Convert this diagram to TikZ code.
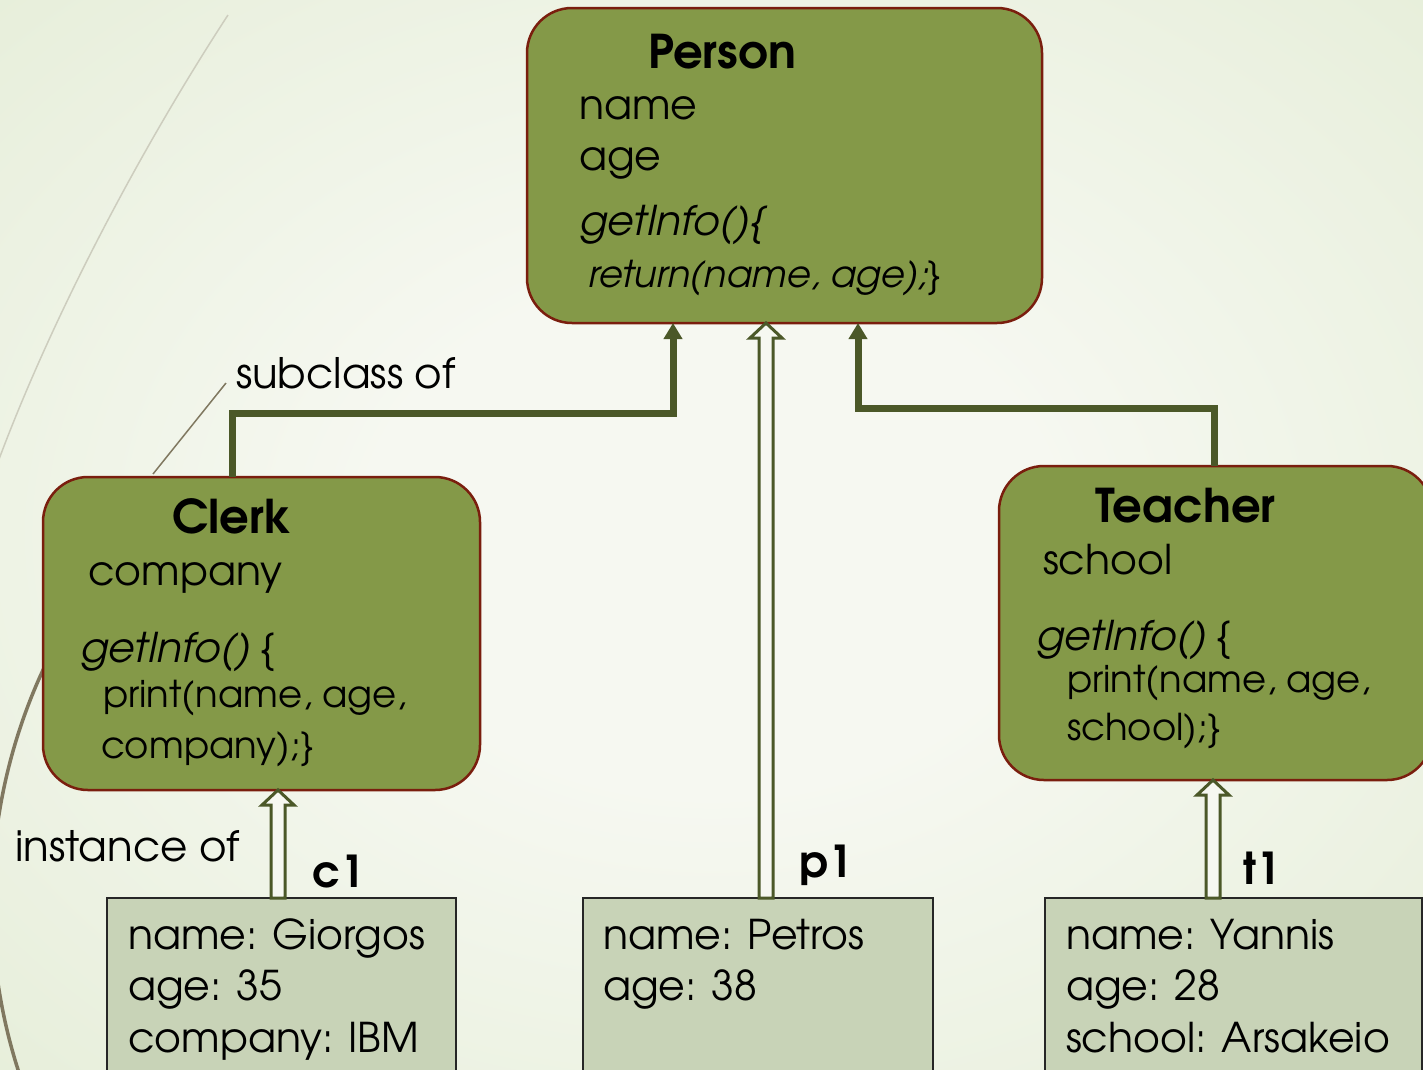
\documentclass[tikz,border=0pt]{standalone}
\usepackage{fontspec}
\setmainfont{texgyreadventor}[Extension=.otf, UprightFont=*-regular, BoldFont=*-bold, ItalicFont=*-regular, ItalicFeatures={FakeSlant=0.2}, BoldItalicFont=*-bolditalic]
\usetikzlibrary{arrows.meta,calc,positioning}

\definecolor{classfill}{RGB}{132,153,72}
\definecolor{classedge}{RGB}{122,30,14}
\definecolor{arrowdark}{RGB}{75,88,40}
\definecolor{objfill}{RGB}{200,211,183}
\definecolor{bgin}{RGB}{246,248,241}
\definecolor{bgout}{RGB}{222,233,205}
\definecolor{decoline}{RGB}{128,120,96}
\definecolor{decolight}{RGB}{205,205,190}

\pgfdeclareradialshading{bgshade}{\pgfpoint{0bp}{0bp}}{color(0bp)=(bgin); color(12bp)=(bgin); color(50bp)=(bgout)}

\tikzset{
  every node/.style={inner sep=0pt, outer sep=0pt},
  classbox/.style={draw=classedge, line width=2.5pt, fill=classfill, rounded corners=45pt},
  objbox/.style={draw=black!85, line width=1.5pt, fill=objfill},
  txt/.style={anchor=base west, font=\fontsize{41}{49}\selectfont},
  code/.style={anchor=base west, font=\fontsize{37}{44}\selectfont},
  ttl/.style={anchor=base west, font=\fontsize{46.5}{55}\selectfont\bfseries},
  lbl/.style={anchor=base west, font=\fontsize{42}{50}\selectfont},
  objname/.style={anchor=base west, font=\fontsize{44}{52}\selectfont\bfseries},
  subarrow/.style={draw=arrowdark, line width=7pt, -{Triangle[length=16pt,width=18pt]}},
  instline/.style={draw=arrowdark, line width=3pt, fill=bgin, line join=miter},
}

% hollow arrow: x from #1, tip at the height of #2
\newcommand{\instarrow}[2]{%
  \draw[instline] let \p1=(#1), \p2=(#2) in
    (\x1-7pt,\y1) -- (\x1-7pt,\y2-15pt) -- (\x1-16pt,\y2-15pt) -- (\x1,\y2)
    -- (\x1+16pt,\y2-15pt) -- (\x1+7pt,\y2-15pt) -- (\x1+7pt,\y1) -- cycle;}

\begin{document}
\begin{tikzpicture}[x=1pt,y=-1pt]
\useasboundingbox (0,0) rectangle (1423,1069);
\clip (0,0) rectangle (1423,1069);
\shade[shading=bgshade] (0,0) rectangle (1423,1069);

% background curves
\draw[decolight, line width=1.5pt] (228,15) .. controls (140,150) and (50,320) .. (-5,470);
\draw[decoline, line width=3.5pt] (545,902) ++(215:553) arc[start angle=215, end angle=158, radius=553];

% classes
\node[classbox, minimum width=515, minimum height=315] (Person) at (784.5,165.5) {};
\node[classbox, minimum width=437, minimum height=313] (Clerk) at (261.5,633.5) {};
\node[classbox, minimum width=433, minimum height=314] (Teacher) at (1215.5,623) {};

\node[ttl] (personT) at (648,68) {Person};
\node[txt] (personA) at (579,119) {name};
\node[txt] (personB) at (579,170) {age};
\node[txt] (personM) at (578,235) {\textit{getInfo()\{}};
\node[code] (personR) at (587,287) {\textit{return(name, age);}\}};

\node[ttl] (clerkT) at (172,533) {Clerk};
\node[txt] (clerkA) at (88,585) {company};
\node[txt] (clerkM) at (79,662) {\textit{getInfo()} \{};
\node[code] (clerkR1) at (103,707) {print(name, age,};
\node[code] (clerkR2) at (101,758) {company);\}};

\node[ttl] (teacherT) at (1095,522) {Teacher};
\node[txt] (teacherA) at (1043,574) {school};
\node[txt] (teacherM) at (1035,650) {\textit{getInfo()} \{};
\node[code] (teacherR1) at (1067,692) {print(name, age,};
\node[code] (teacherR2) at (1067,740) {school);\}};

% objects
\node[objbox, minimum width=349, minimum height=192] (c1box) at (281.5,994) {};
\node[objbox, minimum width=350, minimum height=192] (p1box) at (758,994) {};
\node[objbox, minimum width=377, minimum height=192] (t1box) at (1233.5,994) {};

\node[txt] (c1a) at (128,949) {name: Giorgos};
\node[txt] (c1b) at (128,1000) {age: 35};
\node[txt] (c1c) at (128,1052) {company: IBM};
\node[txt] (p1a) at (603,949) {name: Petros};
\node[txt] (p1b) at (603,1000) {age: 38};
\node[txt] (t1a) at (1066,949) {name: Yannis};
\node[txt] (t1b) at (1066,1000) {age: 28};
\node[txt] (t1c) at (1066,1052) {school: Arsakeio};

\node[objname] (c1) at (312,887) {c1};
\node[objname] (p1) at (799,877) {p1};
\node[objname] (t1) at (1243,884) {t1};
\node[lbl] (subcl) at (236,388) {subclass of};
\node[lbl] (inst) at (15,861) {instance of};

% connectors
\coordinate (clerkUp) at ($(Clerk.north)+(-29.5,0)$);
\coordinate (teacherUp) at ($(Teacher.north)+(-1.5,0)$);
\coordinate (personL) at ($(Person.south)+(-111.5,0)$);
\coordinate (personR) at ($(Person.south)+(73.5,0)$);
\draw[subarrow] (clerkUp) -- ++(0,-64) -| (personL);
\draw[subarrow] (teacherUp) -- ++(0,-58) -| (personR);

\coordinate (c1Up) at ($(c1box.north)+(-3.5,0)$);
\coordinate (p1Up) at ($(p1box.north)+(8,0)$);
\coordinate (t1Up) at ($(t1box.north)+(-20.5,0)$);
\instarrow{c1Up}{Clerk.south}
\instarrow{p1Up}{Person.south}
\instarrow{t1Up}{Teacher.south}

\coordinate (leadA) at (226,383);
\coordinate (leadB) at (153,474);
\draw[decoline, line width=1.5pt] (leadA) -- (leadB);
\end{tikzpicture}
\end{document}
